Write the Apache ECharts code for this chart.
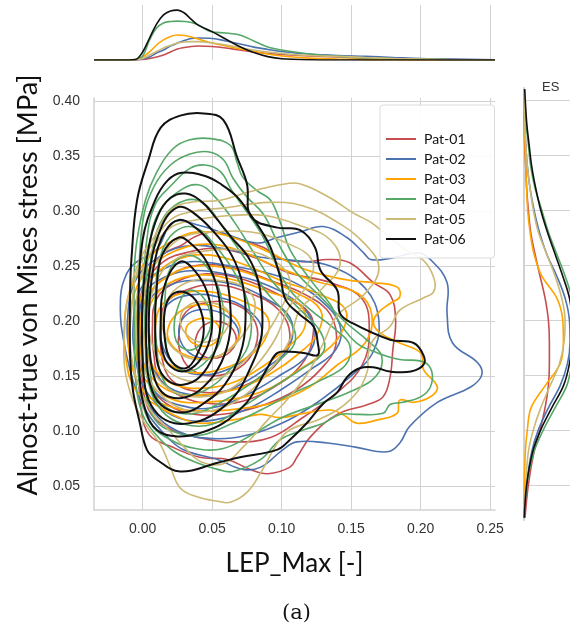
<!DOCTYPE html>
<html>
<head>
<meta charset="utf-8">
<script src="https://cdn.jsdelivr.net/npm/echarts@6/dist/echarts.min.js"></script>
<style>
  html, body { margin: 0; padding: 0; background: #fff; }
  #chart { width: 570px; height: 632px; }
</style>
</head>
<body>
<div id="chart"></div>
<script>
// Tick values
const xTicks = [0, 0.05, 0.10, 0.15, 0.20, 0.25];
const yTicks = [0.05, 0.10, 0.15, 0.20, 0.25, 0.30, 0.35, 0.40];

const patients = ['Pat-01', 'Pat-02', 'Pat-03', 'Pat-04', 'Pat-05', 'Pat-06'];

// KDE contour rings per patient, [LEP_Max, stress] points, outer ring first
const pat01Rings = [
  [[-0.002,0.219],[0.005,0.246],[0.016,0.262],[0.028,0.269],[0.038,0.277],[0.051,0.281],[0.065,0.276],[0.087,0.267],[0.099,0.257],[0.118,0.254],[0.133,0.256],[0.149,0.253],[0.166,0.235],[0.178,0.224],[0.182,0.201],[0.180,0.174],[0.178,0.149],[0.173,0.131],[0.162,0.124],[0.140,0.115],[0.121,0.095],[0.111,0.076],[0.106,0.067],[0.090,0.061],[0.077,0.065],[0.061,0.074],[0.041,0.076],[0.020,0.086],[0.005,0.096],[-0.001,0.119],[-0.003,0.156],[-0.003,0.192]],
  [[-0.001,0.200],[0.003,0.235],[0.015,0.254],[0.034,0.263],[0.055,0.266],[0.080,0.258],[0.105,0.244],[0.135,0.235],[0.158,0.220],[0.163,0.190],[0.158,0.160],[0.140,0.135],[0.115,0.112],[0.092,0.094],[0.065,0.090],[0.040,0.094],[0.018,0.103],[0.004,0.120],[-0.001,0.160]],
  [[0.002,0.192],[0.005,0.224],[0.020,0.242],[0.041,0.251],[0.067,0.248],[0.092,0.237],[0.117,0.224],[0.135,0.206],[0.139,0.178],[0.128,0.156],[0.110,0.137],[0.088,0.124],[0.063,0.116],[0.038,0.115],[0.018,0.124],[0.005,0.142],[0.003,0.165]],
  [[0.007,0.192],[0.010,0.220],[0.025,0.236],[0.046,0.243],[0.072,0.238],[0.098,0.224],[0.120,0.207],[0.122,0.182],[0.114,0.160],[0.096,0.141],[0.072,0.127],[0.048,0.125],[0.027,0.132],[0.012,0.148],[0.008,0.170]],
  [[0.013,0.192],[0.016,0.215],[0.031,0.228],[0.052,0.233],[0.076,0.226],[0.098,0.210],[0.106,0.187],[0.099,0.165],[0.081,0.146],[0.059,0.136],[0.038,0.136],[0.021,0.146],[0.014,0.166]],
  [[0.026,0.187],[0.031,0.208],[0.047,0.217],[0.067,0.215],[0.081,0.199],[0.081,0.176],[0.069,0.157],[0.050,0.150],[0.034,0.157],[0.027,0.172]],
  [[0.038,0.183],[0.044,0.196],[0.057,0.199],[0.067,0.187],[0.063,0.172],[0.050,0.166],[0.040,0.172]]
];
const pat02Rings = [
  [[-0.014,0.235],[-0.007,0.251],[0.010,0.265],[0.022,0.290],[0.041,0.287],[0.058,0.280],[0.082,0.271],[0.097,0.276],[0.113,0.281],[0.130,0.286],[0.147,0.276],[0.159,0.262],[0.164,0.256],[0.178,0.257],[0.198,0.262],[0.207,0.256],[0.219,0.235],[0.219,0.207],[0.223,0.180],[0.241,0.162],[0.244,0.151],[0.236,0.140],[0.212,0.126],[0.192,0.104],[0.185,0.089],[0.176,0.081],[0.154,0.085],[0.133,0.089],[0.111,0.090],[0.101,0.083],[0.085,0.067],[0.072,0.065],[0.054,0.074],[0.029,0.083],[0.015,0.098],[0.002,0.119],[-0.007,0.146],[-0.015,0.192],[-0.016,0.219]],
  [[-0.011,0.200],[-0.006,0.235],[0.008,0.255],[0.030,0.268],[0.058,0.266],[0.085,0.258],[0.110,0.255],[0.135,0.250],[0.160,0.230],[0.170,0.200],[0.165,0.170],[0.150,0.150],[0.128,0.128],[0.105,0.110],[0.078,0.097],[0.050,0.093],[0.025,0.100],[0.008,0.117],[-0.004,0.145],[-0.010,0.175]],
  [[-0.007,0.192],[-0.002,0.228],[0.013,0.246],[0.034,0.254],[0.059,0.251],[0.085,0.245],[0.106,0.237],[0.128,0.219],[0.142,0.196],[0.139,0.174],[0.121,0.156],[0.099,0.137],[0.077,0.121],[0.052,0.110],[0.031,0.110],[0.013,0.121],[0.000,0.142],[-0.005,0.165]],
  [[-0.002,0.192],[0.001,0.224],[0.016,0.240],[0.038,0.246],[0.063,0.242],[0.087,0.234],[0.114,0.214],[0.124,0.190],[0.118,0.168],[0.098,0.150],[0.075,0.133],[0.050,0.121],[0.028,0.123],[0.010,0.134],[0.001,0.160]],
  [[0.002,0.192],[0.005,0.219],[0.020,0.233],[0.041,0.237],[0.067,0.233],[0.088,0.221],[0.106,0.203],[0.106,0.178],[0.092,0.160],[0.070,0.142],[0.049,0.133],[0.027,0.135],[0.013,0.146],[0.004,0.169]],
  [[0.013,0.192],[0.018,0.215],[0.036,0.224],[0.057,0.221],[0.076,0.210],[0.086,0.192],[0.079,0.172],[0.063,0.157],[0.045,0.151],[0.027,0.156],[0.016,0.172]],
  [[0.026,0.192],[0.033,0.207],[0.049,0.210],[0.064,0.201],[0.069,0.185],[0.059,0.171],[0.044,0.166],[0.031,0.174]]
];
const pat03Rings = [
  [[-0.013,0.201],[-0.009,0.228],[0.002,0.254],[0.016,0.269],[0.034,0.280],[0.049,0.281],[0.065,0.276],[0.087,0.265],[0.113,0.249],[0.130,0.242],[0.149,0.237],[0.166,0.235],[0.183,0.231],[0.185,0.222],[0.178,0.216],[0.169,0.207],[0.166,0.198],[0.171,0.189],[0.185,0.180],[0.200,0.171],[0.202,0.156],[0.212,0.140],[0.207,0.131],[0.195,0.126],[0.185,0.128],[0.183,0.116],[0.169,0.110],[0.154,0.107],[0.144,0.115],[0.135,0.119],[0.116,0.116],[0.099,0.112],[0.085,0.115],[0.065,0.110],[0.041,0.107],[0.025,0.113],[0.009,0.124],[-0.005,0.137],[-0.012,0.165]],
  [[-0.010,0.190],[-0.006,0.225],[0.005,0.248],[0.022,0.263],[0.045,0.270],[0.070,0.264],[0.095,0.250],[0.125,0.236],[0.155,0.225],[0.165,0.205],[0.160,0.180],[0.140,0.160],[0.120,0.140],[0.095,0.126],[0.068,0.120],[0.042,0.118],[0.020,0.122],[0.002,0.134],[-0.008,0.160]],
  [[-0.005,0.183],[-0.002,0.219],[0.009,0.242],[0.027,0.257],[0.049,0.260],[0.074,0.251],[0.099,0.237],[0.128,0.224],[0.146,0.210],[0.142,0.187],[0.128,0.169],[0.113,0.156],[0.092,0.139],[0.070,0.130],[0.045,0.126],[0.023,0.128],[0.005,0.142],[-0.003,0.160]],
  [[-0.002,0.190],[0.002,0.219],[0.015,0.238],[0.034,0.249],[0.058,0.249],[0.084,0.240],[0.110,0.226],[0.128,0.210],[0.126,0.189],[0.112,0.170],[0.092,0.152],[0.070,0.139],[0.045,0.133],[0.022,0.135],[0.006,0.149],[-0.001,0.168]],
  [[0.002,0.192],[0.007,0.219],[0.020,0.235],[0.041,0.242],[0.067,0.237],[0.092,0.226],[0.113,0.215],[0.117,0.196],[0.106,0.178],[0.088,0.160],[0.067,0.145],[0.045,0.139],[0.023,0.142],[0.009,0.156],[0.003,0.174]],
  [[0.009,0.192],[0.014,0.215],[0.031,0.226],[0.052,0.226],[0.074,0.217],[0.090,0.203],[0.088,0.183],[0.074,0.166],[0.056,0.156],[0.036,0.153],[0.020,0.160],[0.011,0.174]],
  [[0.018,0.192],[0.026,0.208],[0.041,0.215],[0.059,0.210],[0.070,0.194],[0.064,0.176],[0.049,0.166],[0.033,0.168],[0.021,0.178]],
  [[0.031,0.192],[0.038,0.201],[0.050,0.201],[0.056,0.189],[0.049,0.178],[0.036,0.180]]
];
const pat04Rings = [
  [[-0.004,0.274],[0.002,0.310],[0.010,0.335],[0.022,0.357],[0.034,0.365],[0.049,0.366],[0.063,0.360],[0.068,0.344],[0.072,0.331],[0.082,0.319],[0.092,0.310],[0.099,0.290],[0.106,0.265],[0.121,0.237],[0.135,0.215],[0.142,0.198],[0.154,0.180],[0.169,0.171],[0.185,0.165],[0.202,0.163],[0.208,0.154],[0.207,0.140],[0.200,0.131],[0.187,0.126],[0.178,0.124],[0.173,0.116],[0.154,0.115],[0.142,0.115],[0.130,0.107],[0.116,0.101],[0.099,0.092],[0.085,0.074],[0.065,0.063],[0.054,0.065],[0.039,0.071],[0.023,0.081],[0.010,0.096],[0.000,0.115],[-0.005,0.146],[-0.006,0.201],[-0.006,0.246]],
  [[-0.003,0.230],[0.000,0.290],[0.008,0.322],[0.020,0.342],[0.034,0.352],[0.047,0.354],[0.058,0.347],[0.065,0.330],[0.075,0.313],[0.087,0.297],[0.097,0.272],[0.110,0.245],[0.128,0.222],[0.145,0.200],[0.162,0.182],[0.172,0.168],[0.168,0.150],[0.150,0.136],[0.125,0.124],[0.100,0.112],[0.078,0.096],[0.058,0.084],[0.038,0.084],[0.020,0.092],[0.005,0.108],[-0.002,0.140],[-0.004,0.185]],
  [[0.000,0.219],[0.003,0.274],[0.009,0.306],[0.021,0.324],[0.034,0.339],[0.045,0.342],[0.056,0.336],[0.064,0.319],[0.074,0.301],[0.086,0.278],[0.095,0.254],[0.106,0.228],[0.121,0.210],[0.139,0.192],[0.149,0.178],[0.146,0.160],[0.128,0.146],[0.106,0.133],[0.085,0.119],[0.063,0.106],[0.041,0.096],[0.023,0.099],[0.009,0.110],[0.002,0.137],[0.000,0.174]],
  [[0.002,0.219],[0.005,0.270],[0.012,0.300],[0.026,0.318],[0.040,0.324],[0.052,0.313],[0.066,0.290],[0.080,0.262],[0.094,0.235],[0.112,0.212],[0.128,0.190],[0.130,0.172],[0.114,0.156],[0.094,0.140],[0.072,0.122],[0.050,0.106],[0.030,0.106],[0.014,0.118],[0.004,0.145],[0.002,0.180]],
  [[0.004,0.219],[0.007,0.265],[0.016,0.296],[0.031,0.310],[0.045,0.306],[0.059,0.283],[0.074,0.256],[0.088,0.228],[0.103,0.206],[0.110,0.183],[0.099,0.165],[0.081,0.146],[0.059,0.128],[0.038,0.116],[0.020,0.119],[0.009,0.133],[0.005,0.165]],
  [[0.009,0.219],[0.013,0.260],[0.023,0.281],[0.038,0.285],[0.052,0.269],[0.067,0.242],[0.077,0.210],[0.076,0.178],[0.063,0.156],[0.045,0.137],[0.027,0.133],[0.015,0.146],[0.010,0.178]],
  [[0.016,0.219],[0.020,0.248],[0.033,0.260],[0.047,0.248],[0.057,0.219],[0.057,0.187],[0.047,0.165],[0.033,0.154],[0.021,0.163],[0.016,0.187]],
  [[0.026,0.215],[0.034,0.228],[0.045,0.219],[0.049,0.196],[0.041,0.178],[0.031,0.174],[0.023,0.187]]
];
const pat05Rings = [
  [[-0.011,0.219],[-0.002,0.256],[0.009,0.278],[0.020,0.301],[0.034,0.308],[0.056,0.310],[0.075,0.317],[0.099,0.324],[0.113,0.325],[0.135,0.312],[0.152,0.298],[0.164,0.290],[0.176,0.278],[0.189,0.265],[0.203,0.254],[0.210,0.237],[0.209,0.226],[0.202,0.221],[0.185,0.210],[0.178,0.195],[0.166,0.183],[0.162,0.167],[0.162,0.156],[0.157,0.140],[0.149,0.128],[0.140,0.119],[0.126,0.110],[0.106,0.101],[0.097,0.089],[0.085,0.062],[0.075,0.044],[0.063,0.035],[0.054,0.036],[0.039,0.040],[0.027,0.048],[0.020,0.067],[0.013,0.087],[0.002,0.106],[-0.007,0.128],[-0.013,0.158],[-0.013,0.192]],
  [[-0.008,0.210],[-0.004,0.245],[0.007,0.270],[0.020,0.292],[0.037,0.300],[0.060,0.303],[0.090,0.308],[0.115,0.305],[0.140,0.290],[0.160,0.270],[0.170,0.248],[0.160,0.225],[0.140,0.205],[0.130,0.180],[0.120,0.155],[0.105,0.130],[0.090,0.110],[0.072,0.085],[0.058,0.070],[0.042,0.072],[0.030,0.085],[0.018,0.102],[0.005,0.120],[-0.005,0.150],[-0.009,0.180]],
  [[-0.005,0.201],[-0.002,0.237],[0.007,0.265],[0.020,0.285],[0.038,0.292],[0.063,0.296],[0.088,0.296],[0.113,0.287],[0.135,0.274],[0.142,0.251],[0.128,0.228],[0.113,0.210],[0.106,0.183],[0.092,0.156],[0.074,0.133],[0.052,0.119],[0.031,0.119],[0.013,0.133],[0.000,0.160]],
  [[0.000,0.201],[0.003,0.235],[0.014,0.260],[0.030,0.277],[0.052,0.281],[0.078,0.281],[0.102,0.272],[0.122,0.255],[0.118,0.232],[0.105,0.212],[0.096,0.185],[0.082,0.160],[0.063,0.138],[0.042,0.131],[0.022,0.136],[0.008,0.153],[0.002,0.175]],
  [[0.004,0.201],[0.009,0.233],[0.021,0.254],[0.041,0.263],[0.067,0.265],[0.092,0.257],[0.106,0.237],[0.099,0.210],[0.086,0.183],[0.070,0.160],[0.050,0.146],[0.031,0.146],[0.016,0.157],[0.007,0.178]],
  [[0.014,0.201],[0.020,0.224],[0.034,0.236],[0.054,0.237],[0.074,0.230],[0.081,0.212],[0.072,0.187],[0.056,0.169],[0.038,0.165],[0.023,0.174],[0.016,0.187]],
  [[0.027,0.201],[0.034,0.215],[0.049,0.217],[0.062,0.208],[0.059,0.190],[0.047,0.181],[0.034,0.185]]
];
const pat06Rings = [
  [[0.044,0.389],[0.058,0.383],[0.068,0.349],[0.075,0.325],[0.078,0.295],[0.097,0.285],[0.113,0.283],[0.124,0.267],[0.128,0.246],[0.140,0.228],[0.142,0.207],[0.151,0.198],[0.178,0.183],[0.195,0.180],[0.202,0.169],[0.202,0.160],[0.193,0.154],[0.178,0.154],[0.166,0.158],[0.156,0.157],[0.147,0.149],[0.140,0.135],[0.130,0.125],[0.118,0.107],[0.106,0.092],[0.097,0.083],[0.070,0.076],[0.054,0.071],[0.027,0.063],[0.010,0.074],[0.003,0.083],[-0.002,0.107],[-0.007,0.137],[-0.009,0.167],[-0.009,0.228],[-0.008,0.258],[-0.004,0.310],[0.004,0.346],[0.013,0.376],[0.027,0.387]],
  [[-0.002,0.146],[-0.003,0.219],[0.000,0.274],[0.009,0.310],[0.018,0.328],[0.028,0.335],[0.045,0.332],[0.057,0.324],[0.068,0.313],[0.077,0.298],[0.085,0.283],[0.092,0.267],[0.099,0.240],[0.103,0.219],[0.113,0.206],[0.123,0.195],[0.126,0.180],[0.126,0.169],[0.116,0.171],[0.106,0.172],[0.097,0.171],[0.090,0.158],[0.082,0.140],[0.075,0.126],[0.058,0.107],[0.041,0.098],[0.025,0.095],[0.010,0.101],[0.002,0.119]],
  [[0.031,0.316],[0.043,0.308],[0.052,0.295],[0.064,0.276],[0.076,0.258],[0.083,0.237],[0.086,0.210],[0.085,0.183],[0.077,0.156],[0.067,0.133],[0.052,0.116],[0.038,0.108],[0.023,0.107],[0.011,0.115],[0.003,0.133],[0.000,0.165],[0.000,0.219],[0.004,0.265],[0.011,0.296],[0.020,0.312]],
  [[0.028,0.304],[0.040,0.295],[0.052,0.280],[0.064,0.260],[0.072,0.233],[0.074,0.201],[0.070,0.169],[0.059,0.142],[0.045,0.126],[0.031,0.117],[0.016,0.121],[0.007,0.136],[0.003,0.165],[0.003,0.219],[0.007,0.260],[0.014,0.287],[0.020,0.299]],
  [[0.026,0.292],[0.038,0.285],[0.050,0.269],[0.059,0.246],[0.063,0.215],[0.062,0.183],[0.054,0.156],[0.041,0.137],[0.028,0.130],[0.016,0.133],[0.009,0.146],[0.005,0.174],[0.005,0.219],[0.009,0.256],[0.016,0.281]],
  [[0.026,0.276],[0.036,0.269],[0.046,0.254],[0.054,0.228],[0.056,0.196],[0.051,0.169],[0.041,0.149],[0.029,0.142],[0.018,0.146],[0.011,0.160],[0.009,0.192],[0.010,0.228],[0.014,0.260]],
  [[0.027,0.254],[0.038,0.245],[0.047,0.224],[0.050,0.196],[0.045,0.172],[0.034,0.156],[0.023,0.156],[0.015,0.169],[0.013,0.201],[0.016,0.233]],
  [[0.021,0.224],[0.031,0.226],[0.040,0.215],[0.044,0.192],[0.039,0.169],[0.031,0.157],[0.021,0.163],[0.016,0.183],[0.016,0.210]]
];

// Marginal density of LEP_Max (top panel)
const topX = [-0.035,-0.01,-0.005,0,0.005,0.01,0.015,0.02,0.025,0.03,0.035,0.04,0.05,0.06,0.07,0.08,0.09,0.10,0.12,0.14,0.16,0.18,0.20,0.22,0.2535];
const topPat01 = [0,0,0,0.2,0.7,1.4,2.4,3.8,5.2,5.9,6.4,6.6,6.4,5.7,4.7,3.8,3.1,2.6,1.9,1.4,0.9,0.6,0.3,0.2,0];
const topPat02 = [0,0,0.1,0.5,1.4,3.3,4.7,6.6,8,9.2,10.2,10.4,10.2,9,7.6,6.1,5,4,2.8,2.1,1.7,1.2,0.7,0.5,0.15];
const topPat03 = [0,0,0.2,1.4,3.8,7.1,9.5,11.1,11.8,11.6,10.9,9.9,8,6.6,5.2,4,2.8,1.9,0.9,0.5,0.2,0.1,0,0,0];
const topPat04 = [0,0,0.2,1.9,9.5,15.1,17.5,18.2,18.4,18.2,17.7,16.5,13.2,12.8,11.8,9,6.1,4.7,2.8,1.7,1.0,0.7,0.5,0.2,0];
const topPat05 = [0,0,0.1,0.7,2.4,4,5.7,6.9,8,8.5,8.7,8.7,8,7.1,5.9,4.7,3.8,3.1,2.1,1.7,1.2,0.7,0.5,0.2,0];
const topPat06 = [0,0,0.2,3.8,10.4,17,21.3,23.2,23.6,22.2,19.2,16.5,13.4,9.8,6.3,3.5,1.6,0.6,0.1,0,0,0,0,0,0];

// Marginal density of stress (right panel)
const sideY = [0.02,0.05,0.08,0.10,0.12,0.14,0.16,0.18,0.20,0.22,0.24,0.26,0.28,0.30,0.32,0.34,0.36,0.38,0.41];
const sidePat01 = [0.19,0.82,1.89,3.03,3.98,4.61,4.8,4.8,4.61,3.98,3.03,2.08,1.26,0.82,0.5,0.32,0.13,0.06,0];
const sidePat02 = [0.06,0.5,1.45,2.71,4.61,6.82,8.21,8.71,8.59,7.77,6.19,4.29,2.9,1.89,1.14,0.63,0.32,0.13,0];
const sidePat03 = [0,0.06,0.25,0.63,1.33,3.98,6.82,7.45,7.32,6.19,3.35,1.89,1.14,0.69,0.5,0.32,0.19,0.06,0];
const sidePat04 = [0.06,0.5,1.89,3.66,5.87,8.08,9.03,9.34,9.47,9.03,7.77,6.19,4.61,3.35,2.08,1.26,0.82,0.38,0.06];
const sidePat05 = [0.06,0.32,0.82,1.77,3.16,4.92,6.69,7.58,7.77,7.13,5.87,4.29,2.71,1.77,1.14,0.63,0.32,0.13,0];
const sidePat06 = [0.06,0.5,1.64,3.16,5.24,7.45,8.59,9.03,9.03,8.59,7.32,5.87,4.42,3.16,2.21,1.45,0.95,0.5,0.13];

const colors = ['#c44e52', '#4c72b0', '#ffa500', '#55a868', '#ccb974', '#111111'];
const ringWidths = [1.6, 1.6, 1.7, 1.6, 1.6, 2.0];
const allRings = [pat01Rings, pat02Rings, pat03Rings, pat04Rings, pat05Rings, pat06Rings];
const allTop = [topPat01, topPat02, topPat03, topPat04, topPat05, topPat06];
const allSide = [sidePat01, sidePat02, sidePat03, sidePat04, sidePat05, sidePat06];

const gridColor = '#d2d2d2';
const series = [];

// Top marginal curves (listed first so the legend takes their line icons)
patients.forEach((name, i) => {
  series.push({
    type: 'line', name, xAxisIndex: 1, yAxisIndex: 1,
    data: topX.map((x, k) => [x, allTop[i][k]]),
    smooth: 0.35, symbol: 'none', silent: true,
    lineStyle: { color: colors[i], width: 1.6 },
    itemStyle: { color: colors[i] }
  });
});
// Right marginal curves
patients.forEach((name, i) => {
  series.push({
    type: 'line', name, xAxisIndex: 2, yAxisIndex: 2,
    data: sideY.map((y, k) => [allSide[i][k], y]),
    smooth: 0.35, symbol: 'none', silent: true,
    lineStyle: { color: colors[i], width: 1.6 },
    itemStyle: { color: colors[i] }
  });
});
// Joint KDE contours as closed smooth rings
patients.forEach((name, i) => {
  const rings = allRings[i];
  series.push({
    type: 'custom', name, xAxisIndex: 0, yAxisIndex: 0,
    coordinateSystem: 'cartesian2d',
    data: rings.map(r => [r[0][0], r[0][1]]),
    encode: { x: 0, y: 1 },
    clip: true, silent: true,
    itemStyle: { color: colors[i] },
    renderItem: function (params, api) {
      const ring = rings[params.dataIndex];
      const pts = ring.map(p => api.coord(p));
      return {
        type: 'polygon',
        shape: { points: pts, smooth: 0.4 },
        style: { fill: 'none', stroke: colors[i], lineWidth: ringWidths[i] }
      };
    }
  });
});

const tickFont = { fontFamily: 'Liberation Sans', fontSize: 14, color: '#333' };

const option = {
  backgroundColor: '#fff',
  animation: false,
  title: [
    { text: '(a)', left: 277, top: 598, textStyle: { fontFamily: 'DejaVu Serif', fontSize: 21, fontWeight: 'normal', color: '#111' } },
    { text: 'ES', left: 537, top: 76, textStyle: { fontFamily: 'Liberation Sans', fontSize: 13, fontWeight: 'normal', color: '#333' } }
  ],
  legend: {
    data: patients,
    orient: 'vertical',
    left: 380, top: 105,
    padding: [27, 29, 12, 5],
    itemWidth: 30, itemHeight: 14, itemGap: 6,
    backgroundColor: 'rgba(255,255,255,0.9)',
    borderColor: '#dcdcdc', borderWidth: 1, borderRadius: 3,
    itemStyle: { opacity: 0 },
    lineStyle: { width: 2 },
    textStyle: { fontFamily: 'Lato', fontSize: 14, color: '#111', padding: [0, 0, 0, 3] },
    selectedMode: false
  },
  grid: [
    { left: 94, top: 98, width: 401, height: 412 },
    { left: 94, top: 5, width: 401, height: 55 },
    { left: 524, top: 88, width: 46, height: 432 }
  ],
  xAxis: [
    {
      gridIndex: 0, type: 'value', min: -0.035, max: 0.2535,
      name: 'LEP_Max [-]', nameLocation: 'middle', nameGap: 41,
      nameTextStyle: { fontFamily: 'Lato', fontSize: 26, color: '#111' },
      axisLine: { show: true, onZero: false, lineStyle: { color: gridColor, width: 1.5 } },
      axisTick: { show: false, customValues: xTicks },
      axisLabel: Object.assign({ customValues: xTicks, margin: 12, formatter: v => v.toFixed(2) }, tickFont),
      splitLine: { show: true, lineStyle: { color: gridColor, width: 1 } }
    },
    {
      gridIndex: 1, type: 'value', min: -0.035, max: 0.2535,
      axisLine: { show: false }, axisTick: { show: false, customValues: xTicks },
      axisLabel: { show: false, customValues: xTicks },
      splitLine: { show: true, lineStyle: { color: gridColor, width: 1 } }
    },
    {
      gridIndex: 2, type: 'value', min: 0, max: 8.7,
      axisLine: { show: false }, axisTick: { show: false },
      axisLabel: { show: false }, splitLine: { show: false }
    }
  ],
  yAxis: [
    {
      gridIndex: 0, type: 'value', min: 0.028, max: 0.403,
      name: 'Almost-true von Mises stress [MPa]', nameLocation: 'middle', nameGap: 46,
      nameTextStyle: { fontFamily: 'Lato', fontSize: 27, color: '#111', padding: [0, 0, 0, 38] },
      axisLine: { show: true, onZero: false, lineStyle: { color: gridColor, width: 1.5 } },
      axisTick: { show: false, customValues: yTicks },
      axisLabel: Object.assign({ customValues: yTicks, margin: 14, formatter: v => v.toFixed(2) }, tickFont),
      splitLine: { show: true, lineStyle: { color: gridColor, width: 1 } }
    },
    {
      gridIndex: 1, type: 'value', min: 0, max: 26,
      axisLine: { show: false }, axisTick: { show: false },
      axisLabel: { show: false }, splitLine: { show: false }
    },
    {
      gridIndex: 2, type: 'value', min: 0.018, max: 0.411,
      axisLine: { show: true, onZero: false, lineStyle: { color: gridColor, width: 2 } },
      axisTick: { show: false, customValues: yTicks },
      axisLabel: { show: false, customValues: yTicks },
      splitLine: { show: true, lineStyle: { color: gridColor, width: 1 } }
    }
  ],
  series: series
};

const chart = echarts.init(document.getElementById('chart'), null, { renderer: 'canvas' });
chart.setOption(option);
</script>
</body>
</html>
